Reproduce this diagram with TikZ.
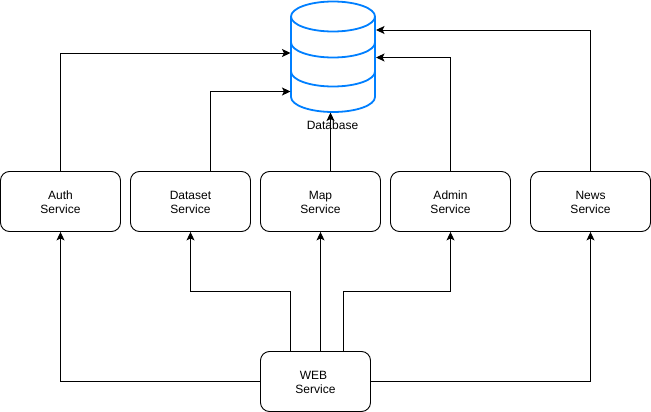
\documentclass[tikz,border=0pt]{standalone}
\usepackage{fontspec}
\setmainfont{Liberation Sans}
\usetikzlibrary{arrows.meta,calc}
\definecolor{dbblue}{HTML}{007FFF}
\tikzset{
  svc/.style={draw=black,line width=0.9pt,rounded corners=9pt,minimum height=60pt,inner sep=0pt,align=center,text height=25pt,font=\fontsize{12}{14}\selectfont},
  link/.style={draw=black,line width=0.9pt,-{Stealth[length=8.5pt,width=8pt,inset=2pt]}},
  dbline/.style={draw=dbblue,line width=1.8pt},
}
\begin{document}
\begin{tikzpicture}[x=1pt,y=-1pt]
\useasboundingbox (0,0) rectangle (651,412);
\node[svc,minimum width=120pt] (auth) at (60.5,201.5) {Auth\\Service};
\node[svc,minimum width=120pt] (dataset) at (190.5,201.5) {Dataset\\Service};
\node[svc,minimum width=120pt] (map) at (320.5,201.5) {Map\\Service};
\node[svc,minimum width=120pt] (admin) at (450.5,201.5) {Admin\\Service};
\node[svc,minimum width=120pt] (news) at (590.5,201.5) {News\\Service};
\node[svc,minimum width=110pt] (web) at (315.5,381.5) {WEB\hspace*{4pt}\\Service};
% database
\draw[dbline,line join=round] (291,16.5) arc[x radius=42,y radius=15,start angle=180,end angle=360] -- (375,97)
  arc[x radius=42,y radius=15,start angle=0,end angle=180] -- cycle;
\draw[dbline] (291,16.5) arc[x radius=42,y radius=15,start angle=180,end angle=0];
\draw[dbline] (291,42.5) arc[x radius=42,y radius=15,start angle=180,end angle=0];
\draw[dbline] (291,71.5) arc[x radius=42,y radius=15,start angle=180,end angle=0];
\node[font=\fontsize{12}{14}\selectfont,inner sep=0pt] (dblabel) at (332.5,125) {Database};
\coordinate (dbL1) at (290.5,53);
\coordinate (dbL2) at (290.5,91.5);
\coordinate (dbR1) at (376,30);
\coordinate (dbR2) at (376,57.5);
\coordinate (dbB) at (330.5,112.5);
% upper connectors
\draw[link] (auth.north) |- (dbL1);
\draw[link] ($(dataset.north)+(20,0)$) coordinate (ds) |- (dbL2);
\draw[link] ($(map.north)+(10,0)$) -- (dbB);
\draw[link] (admin.north) |- (dbR2);
\draw[link] (news.north) |- (dbR1);
% lower connectors
\coordinate (wd) at (290.5,351.5);
\coordinate (wm) at (320.5,351.5);
\coordinate (wa) at (343,351.5);
\draw[link] (web.west) -| (auth.south);
\draw[link] (wd) -- (290.5,291.5) -| (dataset.south);
\draw[link] (wm) -- (map.south);
\draw[link] (wa) -- (343,291.5) -| (admin.south);
\draw[link] (web.east) -| (news.south);
\end{tikzpicture}
\end{document}
